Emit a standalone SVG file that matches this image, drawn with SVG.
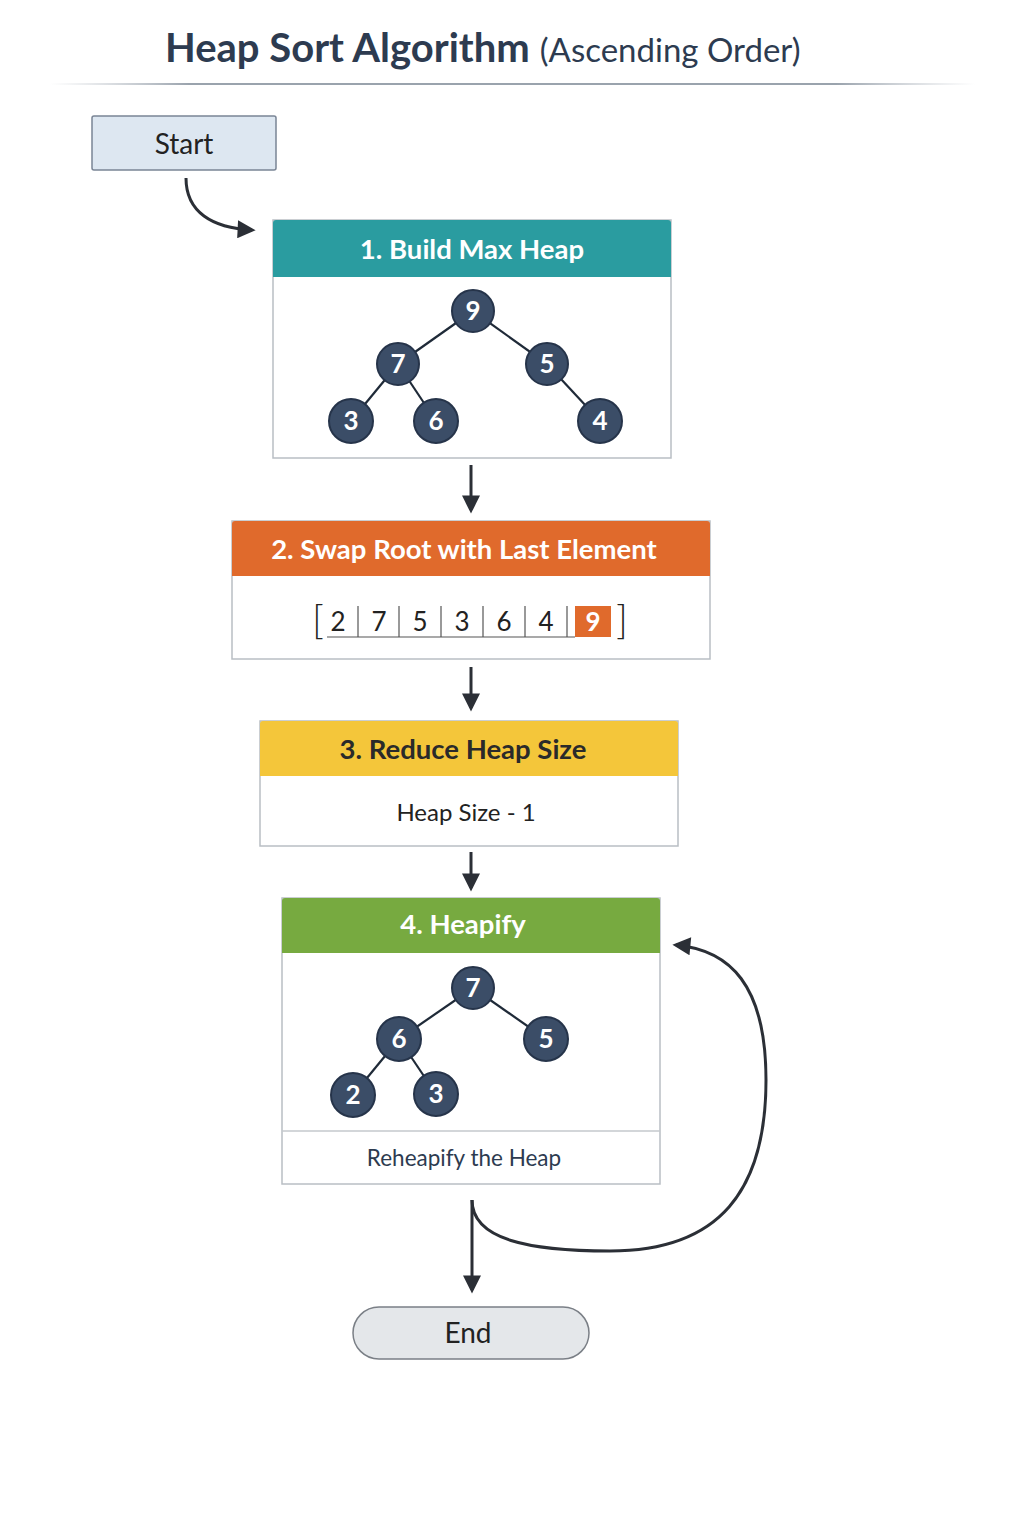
<svg xmlns="http://www.w3.org/2000/svg" width="1024" height="1536" viewBox="0 0 1024 1536">
<defs>
<linearGradient id="rule" x1="0" x2="1" y1="0" y2="0">
<stop offset="0" stop-color="#b8bec6" stop-opacity="0"/>
<stop offset="0.15" stop-color="#9aa3ad"/>
<stop offset="0.85" stop-color="#9aa3ad"/>
<stop offset="1" stop-color="#b8bec6" stop-opacity="0"/>
</linearGradient>
<marker id="ah" viewBox="0 0 10 10" refX="8" refY="5" markerWidth="7" markerHeight="6" markerUnits="strokeWidth" orient="auto">
<path d="M0,0 L10,5 L0,10 z" fill="#2b2f36"/>
</marker>
<style>
text{font-family:Lato,"Open Sans","DejaVu Sans",sans-serif;}
.box{fill:#ffffff;stroke:#b9bec4;stroke-width:1.5;}
.hdr{font-size:27.5px;text-anchor:middle;font-weight:bold;}
.wt{fill:#ffffff;}
.node circle{fill:#3b4d67;stroke:#26344a;stroke-width:2;}
.node text{fill:#ffffff;font-size:26px;font-weight:bold;text-anchor:middle;}
.edge{stroke:#1f2a38;stroke-width:2.2;}
.conn{fill:none;stroke:#2b2f36;stroke-width:3;marker-end:url(#ah);}
.body{fill:#2d3b50;font-size:22px;text-anchor:middle;}
.arr{fill:#222;font-size:26px;text-anchor:middle;}
.brk{fill:#222;font-size:40px;font-weight:300;text-anchor:middle;}
.sep{stroke:#555;stroke-width:1.2;}
</style>
</defs>
<rect width="1024" height="1536" fill="#ffffff"/>
<g id="title">
<text x="165" y="62" fill="#2d3b50" font-size="40"><tspan font-weight="bold">Heap Sort Algorithm</tspan><tspan dx="10" font-size="33">(Ascending Order)</tspan></text>
<rect x="50" y="83" width="925" height="2" fill="url(#rule)"/>
</g>
<g id="start">
<rect x="92" y="116" width="184" height="54" rx="2" fill="#dde7f1" stroke="#7a8595" stroke-width="1.5"/>
<text x="184" y="154" text-anchor="middle" font-size="28" fill="#222">Start</text>
</g>
<g id="step1">
<rect class="box" x="273" y="220" width="398" height="238"/>
<path d="M273,277 V223 a3,3 0 0 1 3,-3 H668 a3,3 0 0 1 3,3 V277 z" fill="#2a9ca0"/>
<text class="hdr wt" x="472" y="259">1. Build Max Heap</text>
<g>
<line class="edge" x1="473" y1="311" x2="398" y2="364"/>
<line class="edge" x1="473" y1="311" x2="547" y2="364"/>
<line class="edge" x1="398" y1="364" x2="351" y2="421"/>
<line class="edge" x1="398" y1="364" x2="436" y2="421"/>
<line class="edge" x1="547" y1="364" x2="600" y2="421"/>
</g>
<g class="node"><circle cx="473" cy="311" r="21"/><text x="473" y="320">9</text></g>
<g class="node"><circle cx="398" cy="364" r="21"/><text x="398" y="373">7</text></g>
<g class="node"><circle cx="547" cy="364" r="21"/><text x="547" y="373">5</text></g>
<g class="node"><circle cx="351" cy="421" r="22"/><text x="351" y="430">3</text></g>
<g class="node"><circle cx="436" cy="421" r="22"/><text x="436" y="430">6</text></g>
<g class="node"><circle cx="600" cy="421" r="22"/><text x="600" y="430">4</text></g>
</g>
<g id="step2">
<rect class="box" x="232" y="521" width="478" height="138"/>
<path d="M232,576 V524 a3,3 0 0 1 3,-3 H707 a3,3 0 0 1 3,3 V576 z" fill="#e06a2c"/>
<text class="hdr wt" x="464" y="559">2. Swap Root with Last Element</text>
<rect x="575" y="606" width="36" height="31" fill="#e06a2c"/>
<text class="brk" x="318" y="634">[</text>
<text class="brk" x="622" y="634">]</text>
<line x1="327" y1="637" x2="575" y2="637" class="sep"/>
<line class="sep" x1="358" y1="606" x2="358" y2="637"/>
<line class="sep" x1="399" y1="606" x2="399" y2="637"/>
<line class="sep" x1="441" y1="606" x2="441" y2="637"/>
<line class="sep" x1="483" y1="606" x2="483" y2="637"/>
<line class="sep" x1="525" y1="606" x2="525" y2="637"/>
<line class="sep" x1="567" y1="606" x2="567" y2="637"/>
<text class="arr" x="338" y="631">2</text>
<text class="arr" x="379" y="631">7</text>
<text class="arr" x="420" y="631">5</text>
<text class="arr" x="462" y="631">3</text>
<text class="arr" x="504" y="631">6</text>
<text class="arr" x="546" y="631">4</text>
<text class="arr" x="593" y="631" style="fill:#ffffff;font-weight:bold">9</text>
</g>
<g id="step3">
<rect class="box" x="260" y="721" width="418" height="125"/>
<path d="M260,776 V724 a3,3 0 0 1 3,-3 H675 a3,3 0 0 1 3,3 V776 z" fill="#f4c63a"/>
<text class="hdr" x="463" y="759" fill="#2a2a2a">3. Reduce Heap Size</text>
<text class="body" x="466" y="821" style="fill:#222;font-size:24px">Heap Size - 1</text>
</g>
<g id="step4">
<rect class="box" x="282" y="898" width="378" height="286"/>
<path d="M282,953 V901 a3,3 0 0 1 3,-3 H657 a3,3 0 0 1 3,3 V953 z" fill="#77aa40"/>
<text class="hdr wt" x="463" y="934">4. Heapify</text>
<line x1="282" y1="1131" x2="660" y2="1131" stroke="#c4c8cc" stroke-width="1.5"/>
<g>
<line class="edge" x1="473" y1="988" x2="399" y2="1039"/>
<line class="edge" x1="473" y1="988" x2="546" y2="1039"/>
<line class="edge" x1="399" y1="1039" x2="353" y2="1095"/>
<line class="edge" x1="399" y1="1039" x2="436" y2="1094"/>
</g>
<g class="node"><circle cx="473" cy="988" r="21"/><text x="473" y="997">7</text></g>
<g class="node"><circle cx="399" cy="1039" r="22"/><text x="399" y="1048">6</text></g>
<g class="node"><circle cx="546" cy="1039" r="22"/><text x="546" y="1048">5</text></g>
<g class="node"><circle cx="353" cy="1095" r="22"/><text x="353" y="1104">2</text></g>
<g class="node"><circle cx="436" cy="1094" r="22"/><text x="436" y="1103">3</text></g>
<text class="body" x="464" y="1166" style="font-size:22.5px">Reheapify the Heap</text>
</g>
<g id="end">
<rect x="353" y="1307" width="236" height="52" rx="26" fill="#e4e7ea" stroke="#7a7f86" stroke-width="1.5"/>
<text x="468" y="1343" text-anchor="middle" font-size="28" fill="#222">End</text>
</g>
<g id="connectors">
<path class="conn" d="M186,178 C186,212 212,228 252,230"/>
<path class="conn" d="M471,465 V510"/>
<path class="conn" d="M471,667 V708"/>
<path class="conn" d="M471,852 V888"/>
<path class="conn" d="M472,1200 V1290"/>
<path class="conn" d="M472,1200 C472,1240 530,1251 610,1251 C720,1251 766,1190 766,1080 C766,985 730,950 676,945"/>
</g>
</svg>
